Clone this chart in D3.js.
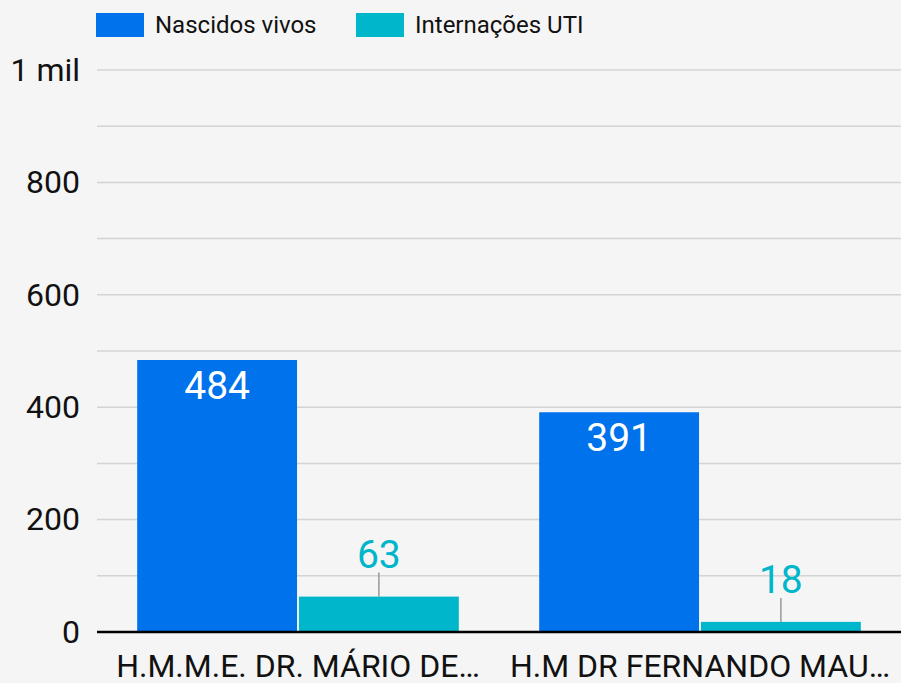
<!DOCTYPE html>
<html>
<head>
<meta charset="utf-8">
<script src="https://cdn.jsdelivr.net/npm/d3@7"></script>
<style>
  body { margin: 0; background: #f5f5f5; }
  svg { display: block; font-family: Roboto, sans-serif; }
</style>
</head>
<body>
<div id="chart"></div>
<script>
var svgWidth = 901;
var svgHeight = 683;

var categories = ["H.M.M.E. DR. MÁRIO DE…", "H.M DR FERNANDO MAU…"];
var seriesNames = ["Nascidos vivos", "Internações UTI"];
var nascidosVivos = [484, 391];
var internacoesUti = [63, 18];
var yTicks = [0, 200, 400, 600, 800, 1000];
var yTickLabels = ["0", "200", "400", "600", "800", "1 mil"];

var colors = ["#0072ec", "#00b6cb"];

var margin = { top: 70, right: 0, bottom: 51, left: 97 };
var width = svgWidth - margin.left - margin.right;
var height = svgHeight - margin.top - margin.bottom;

var svg = d3.select("#chart")
  .append("svg")
  .attr("width", svgWidth)
  .attr("height", svgHeight);

svg.append("rect")
  .attr("width", svgWidth)
  .attr("height", svgHeight)
  .attr("fill", "#f5f5f5");

var chartGroup = svg.append("g")
  .attr("transform", `translate(${margin.left}, ${margin.top})`);

// scales
var x0 = d3.scaleBand()
  .domain(categories)
  .range([0, width])
  .paddingInner(0.2)
  .paddingOuter(0.1);

var x1 = d3.scaleBand()
  .domain(seriesNames)
  .range([0, x0.bandwidth()])
  .paddingInner(0.012);

var y = d3.scaleLinear()
  .domain([0, 1000])
  .range([height, 0]);

// gridlines every 100
chartGroup.append("g")
  .selectAll("line")
  .data(d3.range(100, 1001, 100))
  .enter()
  .append("line")
  .attr("x1", 0)
  .attr("x2", width)
  .attr("y1", d => y(d))
  .attr("y2", d => y(d))
  .attr("stroke", "#d4d4d4")
  .attr("stroke-width", 1.5);

// y axis labels
var leftAxis = d3.axisLeft(y)
  .tickValues(yTicks)
  .tickFormat((d, i) => yTickLabels[i])
  .tickSize(0)
  .tickPadding(17);

var yAxisG = chartGroup.append("g").call(leftAxis);
yAxisG.select(".domain").remove();
yAxisG.selectAll("text")
  .attr("font-family", "Roboto, sans-serif")
  .attr("font-size", 32)
  .attr("fill", "#111");

// bars
var rows = categories.map((c, i) => ({
  cat: c,
  values: [
    { name: seriesNames[0], value: nascidosVivos[i], color: colors[0] },
    { name: seriesNames[1], value: internacoesUti[i], color: colors[1] }
  ]
}));

var groups = chartGroup.selectAll(".group")
  .data(rows)
  .enter()
  .append("g")
  .attr("transform", d => `translate(${x0(d.cat)}, 0)`);

groups.selectAll("rect")
  .data(d => d.values)
  .enter()
  .append("rect")
  .attr("x", d => x1(d.name))
  .attr("y", d => y(d.value))
  .attr("width", x1.bandwidth())
  .attr("height", d => height - y(d.value))
  .attr("fill", d => d.color);

// value labels: inside for tall bars, above with a leader line for short ones
groups.each(function(row) {
  var g = d3.select(this);
  row.values.forEach(function(d) {
    var cx = x1(d.name) + x1.bandwidth() / 2;
    var barH = height - y(d.value);
    if (barH > 60) {
      g.append("text")
        .attr("x", cx)
        .attr("y", y(d.value) + 39)
        .attr("text-anchor", "middle")
        .attr("font-size", 39)
        .attr("fill", "#fff")
        .text(d.value);
    } else {
      g.append("line")
        .attr("x1", cx)
        .attr("x2", cx)
        .attr("y1", y(d.value))
        .attr("y2", y(d.value) - 24)
        .attr("stroke", "#999")
        .attr("stroke-width", 1.5);
      g.append("text")
        .attr("x", cx)
        .attr("y", y(d.value) - 29)
        .attr("text-anchor", "middle")
        .attr("font-size", 39)
        .attr("fill", d.color)
        .text(d.value);
    }
  });
});

// baseline
chartGroup.append("line")
  .attr("x1", 0)
  .attr("x2", width)
  .attr("y1", height)
  .attr("y2", height)
  .attr("stroke", "#000")
  .attr("stroke-width", 2.5);

// x axis labels
chartGroup.append("g")
  .selectAll("text")
  .data(categories)
  .enter()
  .append("text")
  .attr("x", d => x0(d) + x0.bandwidth() / 2)
  .attr("y", height + 45)
  .attr("text-anchor", "middle")
  .attr("font-size", 32)
  .attr("fill", "#111")
  .text(d => d);

// legend
var legend = svg.append("g")
  .selectAll("g")
  .data(seriesNames)
  .enter()
  .append("g")
  .attr("transform", (d, i) => `translate(${96 + i * 260}, 13)`);

legend.append("rect")
  .attr("width", 48)
  .attr("height", 24)
  .attr("fill", (d, i) => colors[i]);

legend.append("text")
  .attr("x", 59)
  .attr("y", 20)
  .attr("font-size", 24)
  .attr("fill", "#111")
  .text(d => d);
</script>
</body>
</html>
